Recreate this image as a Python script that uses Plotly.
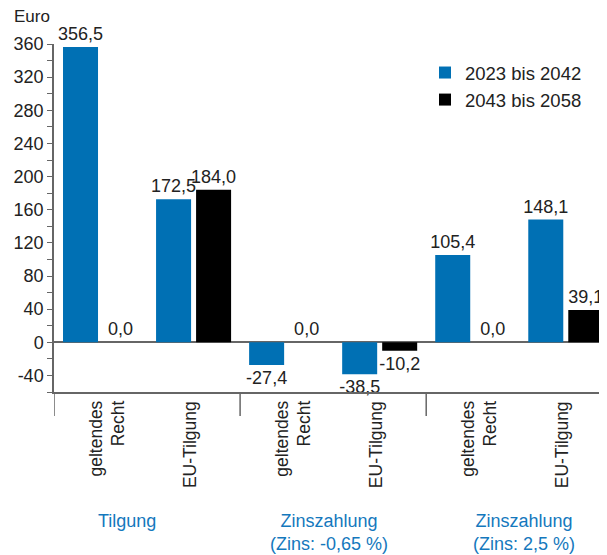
import plotly.graph_objects as go

categories = ["geltendes<br>Recht", "EU-Tilgung", "geltendes<br>Recht", "EU-Tilgung", "geltendes<br>Recht", "EU-Tilgung"]
series_a_name = "2023 bis 2042"
series_b_name = "2043 bis 2058"
series_a = [356.5, 172.5, -27.4, -38.5, 105.4, 148.1]
series_b = [0.0, 184.0, 0.0, -10.2, 0.0, 39.1]
group_labels = ["Tilgung", "Zinszahlung<br>(Zins: -0,65 %)", "Zinszahlung<br>(Zins: 2,5 %)"]
group_label_x = [0.28, 2.45, 4.55]
separators_x = [1.5, 3.5]
y_ticks = [-40, 0, 40, 80, 120, 160, 200, 240, 280, 320, 360]
y_ticktext = ["-40", "0", "40", "80", "120", "160", "200", "240", "280", "320", "360"]
y_minor = [-60, -20, 20, 60, 100, 140, 180, 220, 260, 300, 340]

BLUE = "#0070b4"
BLACK = "#000000"
TEXT = "#222222"
AXIS = "#666666"
LABEL_BLUE = "#1478bd"
FONT = "Liberation Sans, Arial, sans-serif"

xs = list(range(len(categories)))

# page has an 8px body margin: figure is sized so it ends at the window edge
OFF = 8
W, H = 607 - OFF, 555 - OFF
ml, mr, mt = 54 - OFF, 0, 44 - OFF
ph = 348
mb = H - mt - ph
pw = W - ml - mr


def py(page_y):
    """page pixel y -> paper fraction"""
    return (mt + ph - (page_y - OFF)) / ph


def px(page_x):
    return (page_x - OFF - ml) / pw


fig = go.Figure()
fig.add_trace(go.Bar(x=xs, y=series_a, name=series_a_name, marker=dict(color=BLUE, line=dict(width=0)),
                     texttemplate="%{y:.1f}", textposition="outside", constraintext="none",
                     textfont=dict(size=18, color=TEXT, family=FONT), cliponaxis=False))
fig.add_trace(go.Bar(x=xs, y=series_b, name=series_b_name, marker=dict(color=BLACK, line=dict(width=0)),
                     texttemplate="%{y:.1f}", textposition="outside", constraintext="none",
                     textfont=dict(size=18, color=TEXT, family=FONT), cliponaxis=False))

fig.update_layout(
    width=W, height=H,
    margin=dict(l=ml, r=mr, t=mt, b=mb, pad=0, autoexpand=False),
    paper_bgcolor="white", plot_bgcolor="white",
    separators=",.",
    barmode="group", bargap=0.14, bargroupgap=0.125,
    font=dict(family=FONT, size=17, color=TEXT),
    showlegend=True,
    legend=dict(x=px(438) - 13 / pw, y=py(54), xanchor="left", yanchor="top",
                font=dict(size=18.5, color=TEXT), bgcolor="rgba(0,0,0,0)",
                itemclick=False, tracegroupgap=0),
)

fig.update_xaxes(
    range=[-0.5, 5.443], tickmode="array", tickvals=xs, showticklabels=False,
    ticks="", showgrid=False, zeroline=False, automargin=False,
    showline=True, linecolor=AXIS, linewidth=1.5, mirror=False,
)
fig.update_yaxes(
    range=[-60, 360], tickmode="array", tickvals=y_ticks, ticktext=y_ticktext, automargin=False,
    ticks="outside", ticklen=5, tickwidth=1, tickcolor=AXIS,
    minor=dict(tickmode="array", tickvals=y_minor, ticks="outside", ticklen=5, tickcolor=AXIS, showgrid=False),
    showgrid=False, zeroline=True, zerolinecolor=AXIS, zerolinewidth=1.5,
    showline=True, linecolor=AXIS, linewidth=1.5,
    tickfont=dict(size=18, color=TEXT, family=FONT), ticklabelstandoff=0,
)

# rotated category labels
for xi, cat in zip(xs, categories):
    nlines = cat.count("<br>") + 1
    fig.add_annotation(x=xi, xref="x", y=0, yref="paper", text=cat, textangle=-90,
                       showarrow=False, xanchor="center", yanchor="top", align="right",
                       xshift=-4 + 10 * (nlines - 1), yshift=-7,
                       font=dict(size=17.5, color=TEXT, family=FONT))

# vertical separators below the axis
drop = 24 / ph
for sx in [-0.5] + separators_x:
    fig.add_shape(type="line", xref="x", yref="paper", x0=sx, x1=sx, y0=0, y1=-drop,
                  line=dict(color=AXIS, width=1.5))

# group labels
for gx, gl in zip(group_label_x, group_labels):
    fig.add_annotation(x=gx, xref="x", y=py(509), yref="paper",
                       text=gl, showarrow=False, xanchor="center", yanchor="top",
                       font=dict(size=18, color=LABEL_BLUE, family=FONT), align="center")

# unit label
fig.add_annotation(x=px(12), xref="paper", y=py(17), yref="paper",
                   text="Euro", showarrow=False, xanchor="left", yanchor="middle",
                   font=dict(size=17, color=TEXT, family=FONT))

fig.write_html("out.html")
